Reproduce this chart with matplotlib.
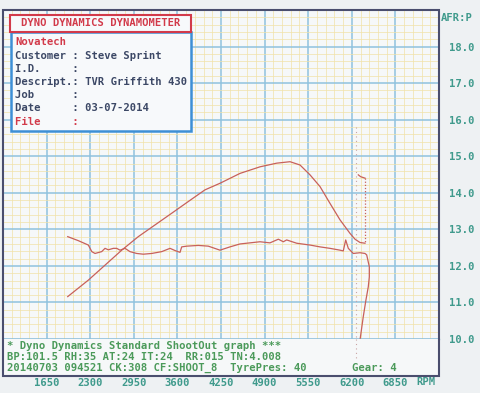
import matplotlib.pyplot as plt
from matplotlib.patches import Rectangle

# ---- data ----
# smooth arc (power trace drawn on the AFR scale)
arc_rpm = [1965, 2272, 2521, 2770, 3017, 3266, 3515, 3762, 4011, 4235, 4533, 4831,
           5080, 5279, 5428, 5577, 5726, 5875, 6024, 6173, 6248, 6322, 6397]
arc_val = [11.16, 11.61, 12.02, 12.43, 12.80, 13.12, 13.44, 13.76, 14.08, 14.26, 14.53, 14.71,
           14.81, 14.85, 14.76, 14.49, 14.17, 13.71, 13.26, 12.89, 12.73, 12.64, 12.62]
# little run-down bit at the end of the arc
tail_rpm = [6297, 6332, 6397]
tail_val = [14.49, 14.44, 14.40]
drop_rpm = [6397, 6397]
drop_val = [14.40, 12.62]

# air fuel ratio trace
afr_rpm = [1965, 2123, 2272, 2324, 2372, 2471, 2521, 2570, 2645, 2695, 2744, 2819, 2893,
           2993, 3092, 3217, 3366, 3490, 3564, 3639, 3664, 3739, 3912, 4061, 4235, 4384,
           4533, 4682, 4831, 4980, 5105, 5179, 5229, 5378, 5577, 5726, 5875, 6024, 6073,
           6109, 6148, 6222, 6322, 6397, 6422, 6461, 6461, 6446, 6411, 6371, 6322]
afr_val = [12.80, 12.69, 12.57, 12.39, 12.34, 12.39, 12.48, 12.44, 12.48, 12.48, 12.43, 12.48, 12.39,
           12.34, 12.32, 12.34, 12.39, 12.48, 12.42, 12.37, 12.52, 12.54, 12.56, 12.54, 12.43, 12.52,
           12.60, 12.63, 12.66, 12.63, 12.73, 12.66, 12.71, 12.62, 12.57, 12.52, 12.48, 12.43, 12.41,
           12.71, 12.48, 12.34, 12.36, 12.34, 12.30, 11.98, 11.70, 11.43, 11.07, 10.61, 9.97]

marker_rpm = 6262  # dotted cursor line

rpm_ticks = [1650, 2300, 2950, 3600, 4250, 4900, 5550, 6200, 6850]
afr_ticks = [10.0, 11.0, 12.0, 13.0, 14.0, 15.0, 16.0, 17.0, 18.0]

header = "DYNO DYNAMICS DYNAMOMETER"
info_company = "Novatech"
info_lines = ["Customer : Steve Sprint",
              "I.D.     :",
              "Descript.: TVR Griffith 430",
              "Job      :",
              "Date     : 03-07-2014"]
info_file = "File     :"
footer_lines = ["* Dyno Dynamics Standard ShootOut graph ***",
                "BP:101.5 RH:35 AT:24 IT:24  RR:015 TN:4.008",
                "20140703 094521 CK:308 CF:SHOOT_8  TyrePres: 40"]
gear_text = "Gear: 4"

# ---- styling ----
W, H = 480, 393
mono = "DejaVu Sans Mono"
fs = 7.6
wt = "bold"  # the printer font is heavy
teal = "#3f9a8c"
green = "#4b9a5a"
red = "#d23a4a"
trace = "#c8605a"
navy = "#4a4e6e"
ink = "#3c4866"

def fx(px): return px / W
def fy(py): return 1 - py / H

fig = plt.figure(figsize=(W / 100, H / 100), dpi=100, facecolor="#eef1f3")

# grid area (paper grid: 650 rpm / 1.0 AFR major, 5 minor divisions)
ax = fig.add_axes([fx(3), fy(339), (439 - 3) / W, (339 - 10) / H], facecolor="#f6f8f9")
ax.set_xlim(1000, 7500)
ax.set_ylim(10, 19)
ax.set_xticks(range(1000, 7501, 650))
ax.set_xticks(range(1000, 7501, 130), minor=True)
ax.set_yticks([v / 5 for v in range(50, 96)], minor=True)
ax.set_yticks(afr_ticks + [19.0])
ax.set_yticklabels([f"{v:.1f}" for v in afr_ticks] + [""])
ax.grid(which="minor", color="#f1e2a8", lw=0.5)
ax.grid(which="major", color="#8fc2de", lw=1.1)
ax.set_axisbelow(True)
ax.tick_params(axis="x", which="both", length=0, labelbottom=False)
ax.yaxis.tick_right()
ax.tick_params(axis="y", which="both", length=0, pad=7, labelsize=fs, labelcolor=teal)
for lbl in ax.get_yticklabels():
    lbl.set_family(mono)
    lbl.set_weight(wt)
for s in ["top", "left", "right"]:
    ax.spines[s].set_visible(False)
ax.spines["bottom"].set_color("#8cb8d0")
ax.spines["bottom"].set_linewidth(1.0)

# traces
ax.plot(arc_rpm, arc_val, color=trace, lw=0.9)
ax.plot(tail_rpm, tail_val, color=trace, lw=0.9)
ax.plot(drop_rpm, drop_val, color=trace, lw=0.9, ls=(0, (1, 1.5)))
ax.plot(afr_rpm, afr_val, color=trace, lw=0.9)
ax.plot([marker_rpm, marker_rpm], [15.8, 10], color="#c9a4a4", lw=0.8, ls=(0, (1, 3)))

ax.text(1.004, 0.977, "AFR:P", transform=ax.transAxes, ha="left", va="center",
        family=mono, fontsize=fs, color=teal, weight=wt)

# footer panel inside the frame
panel = fig.add_axes([fx(3), fy(376), (439 - 3) / W, (376 - 339) / H], facecolor="#f6f8f9")
panel.set_xlim(1000, 7500)
panel.set_ylim(0, 1)
panel.set_yticks([])
panel.set_xticks(rpm_ticks)
panel.set_xticklabels([str(v) for v in rpm_ticks])
panel.tick_params(axis="x", length=0, pad=1.5, labelsize=fs, labelcolor=teal)
for lbl in panel.get_xticklabels():
    lbl.set_family(mono)
    lbl.set_weight(wt)
for s in panel.spines.values():
    s.set_visible(False)
panel.plot([marker_rpm, marker_rpm], [1, 0.5], color="#c9a4a4", lw=0.8, ls=(0, (1, 3)))
panel.text(0.97, -0.16, "RPM", transform=panel.transAxes, ha="center", va="center",
           family=mono, fontsize=fs, color=teal, weight=wt)

for i, line in enumerate(footer_lines):
    fig.text(fx(7), fy(346 + 11 * i), line, family=mono, fontsize=fs, color=green,
             va="center", weight=wt)
fig.text(fx(352), fy(368), gear_text, family=mono, fontsize=fs, color=green, va="center", weight=wt)

# outer frame
fig.patches.append(Rectangle((fx(3), fy(376)), (439 - 3) / W, (376 - 10) / H,
                             transform=fig.transFigure, fill=False, edgecolor=navy, lw=1.5))

# header and info boxes
fig.patches.append(Rectangle((fx(11), fy(131)), (191 - 11) / W, (131 - 32) / H,
                             transform=fig.transFigure, facecolor="#f7f9fb", edgecolor="#3d8fd6", lw=1.8))
fig.patches.append(Rectangle((fx(10), fy(32)), (191 - 10) / W, (32 - 15) / H,
                             transform=fig.transFigure, facecolor="#f7f9fb", edgecolor=red, lw=1.5))
fig.text(fx(100.5), fy(23.5), header, family=mono, fontsize=fs, color=red, ha="center",
         va="center", weight=wt)

fig.text(fx(15), fy(42), info_company, family=mono, fontsize=fs, color=red, va="center", weight=wt)
ys = [55.7, 69, 81.5, 94.5, 107.7]
for y, line in zip(ys, info_lines):
    fig.text(fx(15), fy(y), line, family=mono, fontsize=fs, color=ink, va="center", weight=wt)
fig.text(fx(15), fy(121.7), info_file, family=mono, fontsize=fs, color=red, va="center", weight=wt)

plt.savefig("out.png", dpi=100, facecolor=fig.get_facecolor())
